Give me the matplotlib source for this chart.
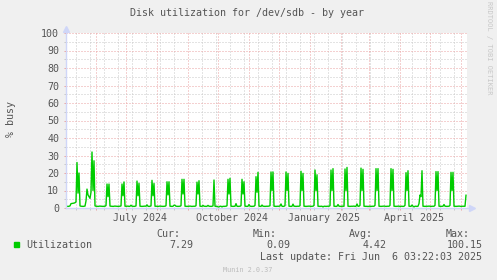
import numpy as np
import pandas as pd
import matplotlib
matplotlib.use('Agg')
import matplotlib.pyplot as plt
import matplotlib.dates as mdates
import matplotlib.transforms as mtransforms
from matplotlib.ticker import MultipleLocator, FixedLocator, NullFormatter
from matplotlib.patches import Rectangle

plt.rcParams['font.family'] = 'DejaVu Sans Mono'

#%% DATA  (daily % busy, 2024-05-03 .. 2025-06-06)
busy = [
    1.0, 0.9, 1.0, 1.2, 2.5, 2.6, 2.7, 2.8, 3.0, 3.5,
    26.0, 8.5, 20.0, 1.2, 1.0, 1.0, 0.9, 1.0, 1.1, 4.0,
    10.8, 7.5, 6.5, 5.5, 9.0, 32.0, 10.0, 27.0, 1.2, 1.0,
    1.0, 0.9, 1.0, 1.1, 1.0, 1.0, 0.9, 1.0, 1.0, 1.4,
    13.7, 6.5, 13.7, 1.1, 1.0, 1.0, 0.9, 1.0, 1.1, 1.0,
    1.0, 0.9, 1.0, 1.0, 1.2, 13.7, 7.0, 14.9, 1.0, 1.0,
    1.0, 1.1, 0.9, 1.0, 1.6, 1.0, 1.0, 0.9, 1.0, 1.2,
    15.4, 7.0, 14.1, 1.0, 1.0, 0.9, 1.0, 1.0, 1.1, 1.0,
    1.8, 1.0, 0.9, 1.0, 1.2, 15.8, 7.0, 14.0, 1.0, 1.0,
    1.0, 0.9, 1.0, 1.1, 1.0, 1.0, 0.9, 1.0, 1.0, 1.3,
    15.0, 7.5, 15.0, 1.0, 1.0, 0.9, 1.0, 1.6, 1.6, 1.0,
    1.0, 0.9, 1.0, 1.0, 1.3, 16.4, 8.0, 16.4, 1.0, 1.0,
    0.9, 1.0, 1.0, 1.1, 1.0, 0.9, 1.0, 1.0, 1.0, 1.3,
    14.8, 8.0, 15.6, 1.0, 1.0, 0.9, 1.5, 1.0, 1.0, 0.9,
    1.0, 1.5, 1.0, 1.0, 0.9, 1.0, 1.2, 16.0, 1.0, 0.9,
    1.0, 0.6, 0.6, 1.0, 1.0, 0.6, 1.0, 0.9, 1.0, 1.0,
    1.3, 16.4, 8.0, 17.0, 1.0, 1.0, 0.9, 1.0, 1.0, 2.5,
    1.0, 0.9, 1.0, 1.0, 1.3, 16.4, 8.0, 15.0, 1.0, 1.0,
    0.9, 1.0, 2.0, 1.0, 1.0, 0.9, 1.0, 1.0, 1.5, 17.9,
    9.0, 20.4, 1.0, 1.0, 0.9, 1.7, 1.0, 1.0, 0.9, 1.0,
    1.0, 1.0, 1.1, 1.3, 20.6, 10.0, 20.6, 1.0, 1.0, 0.9,
    1.0, 1.0, 1.0, 1.1, 2.3, 1.0, 0.9, 1.0, 1.3, 20.6,
    10.0, 19.8, 1.0, 1.0, 0.9, 1.0, 2.2, 1.0, 1.0, 0.9,
    1.0, 1.0, 1.0, 1.3, 21.0, 10.0, 19.8, 1.0, 1.0, 0.9,
    1.0, 1.0, 1.1, 1.0, 0.9, 1.0, 1.0, 1.5, 21.7, 10.0,
    19.0, 1.0, 1.0, 0.9, 1.0, 1.0, 0.6, 1.0, 1.0, 0.9,
    1.0, 1.0, 1.0, 1.3, 21.7, 10.0, 22.5, 1.0, 1.0, 0.9,
    1.0, 2.0, 1.0, 1.0, 0.9, 1.0, 1.0, 1.0, 22.3, 10.0,
    23.2, 1.0, 1.0, 0.9, 1.0, 1.0, 1.0, 1.1, 0.9, 1.0,
    2.3, 1.0, 1.0, 1.5, 22.8, 10.0, 22.1, 1.0, 1.0, 0.9,
    1.0, 0.8, 1.0, 1.0, 0.9, 1.0, 1.0, 1.0, 1.5, 22.5,
    10.0, 22.5, 1.0, 1.0, 0.9, 1.0, 1.0, 1.1, 1.0, 0.9,
    1.0, 1.0, 1.0, 1.5, 22.5, 10.0, 22.1, 1.0, 1.0, 0.9,
    1.0, 1.0, 1.1, 0.8, 1.0, 1.0, 0.9, 1.0, 1.5, 20.2,
    10.0, 21.3, 1.0, 1.0, 0.9, 1.7, 1.0, 0.6, 1.0, 1.0,
    0.9, 1.0, 2.5, 7.4, 6.5, 21.3, 1.0, 1.0, 0.9, 1.0,
    1.0, 1.0, 1.1, 1.0, 0.9, 1.0, 1.0, 1.0, 1.5, 20.8,
    10.0, 20.8, 1.0, 1.0, 0.9, 1.0, 1.0, 2.0, 1.0, 1.0,
    0.9, 1.0, 1.0, 1.5, 20.4, 10.0, 20.4, 1.0, 1.0, 0.9,
    1.0, 1.0, 1.1, 1.0, 0.9, 1.0, 1.0, 1.0, 1.0, 7.3,
]
last_day = '2025-06-06'

month_labels = ['July 2024', 'October 2024', 'January 2025', 'April 2025']
month_label_dates = ['2024-07-15', '2024-10-15', '2025-01-15', '2025-04-15']

stat_names = ['Cur:', 'Min:', 'Avg:', 'Max:']
stat_values = ['7.29', '0.09', '4.42', '100.15']

title = 'Disk utilization for /dev/sdb - by year'
last_update = 'Last update: Fri Jun  6 03:22:03 2025'

#%% PLOT
W, H = 497, 280
fs = 7.2
txt_col = '#555555'
green = '#00CC00'
axis_col = '#CFD6F8'
mgrid = '#EBA3A3'
grid = '#C8C8C8'

fig = plt.figure(figsize=(W / 100, H / 100), dpi=100, facecolor='#F0F0F0')
ax = fig.add_axes([66 / W, 1 - 208 / H, 401 / W, 175 / H])
ax.set_facecolor('white')
for s in ax.spines.values():
    s.set_visible(False)

dates = pd.date_range(end=last_day, periods=len(busy), freq='D')
ax.plot(dates, busy, color=green, lw=1.0, zorder=3)

x_end = pd.Timestamp(last_day) + pd.Timedelta(days=1)
ax.set_xlim(x_end - pd.Timedelta(days=401), x_end)
ax.set_ylim(0, 100)

# grid: red = month starts / every 10 %, grey = every 2 weeks / every 5 %
ax.xaxis.set_major_locator(mdates.MonthLocator())
ax.xaxis.set_minor_locator(FixedLocator(mdates.date2num(
    pd.date_range('2024-05-12', x_end, freq='14D'))))
ax.xaxis.set_major_formatter(NullFormatter())
ax.yaxis.set_major_locator(MultipleLocator(10))
ax.yaxis.set_minor_locator(MultipleLocator(5))
ax.set_axisbelow(True)
ax.grid(which='major', color=mgrid, lw=0.72, ls=(0, (1, 2)))
ax.grid(which='minor', color=grid, lw=0.72, ls=(0, (1, 2)))
ax.tick_params(which='major', length=1.44, width=0.72, color=mgrid,
               labelsize=fs, labelcolor=txt_col, pad=3.5)
ax.tick_params(which='minor', length=1.44, width=0.72, color=grid)

# axis lines with arrows
ax.plot([0, 0], [0, 1.02], transform=ax.transAxes, color=axis_col, lw=1, clip_on=False, zorder=4)
ax.plot([0, 1.01], [0, 0], transform=ax.transAxes, color=axis_col, lw=1, clip_on=False, zorder=4)
ax.plot([0], [1.025], marker='^', ms=4, color=axis_col, transform=ax.transAxes, clip_on=False)
ax.plot([1.012], [0], marker='>', ms=4, color=axis_col, transform=ax.transAxes, clip_on=False)

# month labels
trans = mtransforms.blended_transform_factory(ax.transData, fig.transFigure)
for d, lab in zip(month_label_dates, month_labels):
    ax.text(pd.Timestamp(d), 1 - 220.7 / H, lab, transform=trans, ha='center',
            va='baseline', fontsize=fs, color=txt_col)

fig.text(247.5 / W, 1 - 15.7 / H, title, ha='center', va='baseline', fontsize=fs, color=txt_col)
fig.text(11 / W, 1 - 119 / H, '% busy', rotation=90, ha='center', va='center',
         fontsize=fs, color=txt_col)
fig.text(489 / W, 1 - 48 / H, 'RRDTOOL / TOBI OETIKER', rotation=270, ha='center',
         va='center', fontsize=5, color='#C8C8C8')

# legend
fig.patches.append(Rectangle((14 / W, 1 - 247 / H), 5 / W, 5 / H, color=green,
                             transform=fig.transFigure, figure=fig))
fig.text(26 / W, 1 - 248.3 / H, 'Utilization', ha='left', va='baseline', fontsize=fs, color=txt_col)
name_right = [180.3, 277, 372.7, 470]
val_right = [193.3, 290, 386.7, 482.3]
for n, v, xn, xv in zip(stat_names, stat_values, name_right, val_right):
    fig.text(xn / W, 1 - 236.7 / H, n, ha='right', va='baseline', fontsize=fs, color=txt_col)
    fig.text(xv / W, 1 - 248.3 / H, v, ha='right', va='baseline', fontsize=fs, color=txt_col)
fig.text(482.3 / W, 1 - 260 / H, last_update, ha='right', va='baseline', fontsize=fs, color=txt_col)
fig.text(247.5 / W, 1 - 272 / H, 'Munin 2.0.37', ha='center', va='baseline', fontsize=4.9, color='#BBBBBB')

fig.savefig('out.png', dpi=100, facecolor=fig.get_facecolor())
